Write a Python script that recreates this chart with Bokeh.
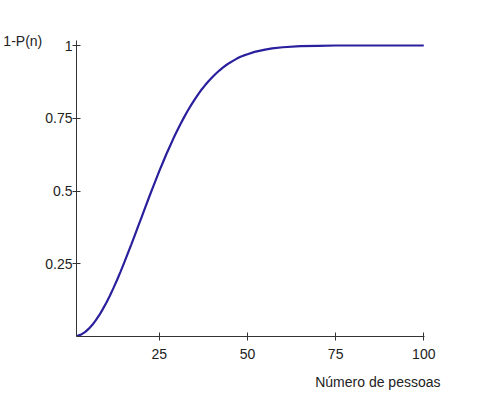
from bokeh.plotting import figure
from bokeh.models import FixedTicker, Range1d, Title
from bokeh.embed import file_html
from bokeh.resources import INLINE

# Number of people and probability of at least one shared birthday
people = [1, 2, 3, 4, 5, 6, 7, 8, 9, 10, 11, 12, 13, 14, 15, 16, 17, 18, 19, 20,
          21, 22, 23, 24, 25, 26, 27, 28, 29, 30, 31, 32, 33, 34, 35, 36, 37, 38, 39, 40,
          41, 42, 43, 44, 45, 46, 47, 48, 49, 50, 52, 55, 57, 60, 65, 70, 75, 80, 90, 100]
prob = [0.0, 0.003, 0.008, 0.016, 0.027, 0.040, 0.056, 0.074, 0.095, 0.117,
        0.141, 0.167, 0.194, 0.223, 0.253, 0.284, 0.315, 0.347, 0.379, 0.411,
        0.444, 0.476, 0.507, 0.538, 0.569, 0.598, 0.627, 0.654, 0.681, 0.706,
        0.730, 0.753, 0.775, 0.795, 0.814, 0.832, 0.849, 0.864, 0.878, 0.891,
        0.903, 0.914, 0.924, 0.933, 0.941, 0.948, 0.955, 0.961, 0.966, 0.970,
        0.978, 0.986, 0.990, 0.994, 0.998, 0.999, 1.000, 1.000, 1.000, 1.000]
x_ticks = [25, 50, 75, 100]
y_ticks = [0.25, 0.5, 0.75, 1.0]
y_tick_labels = ["0.25", "0.5", "0.75", "1"]
x_title = "Número de pessoas"
y_title = "1-P(n)"

FONT = "Liberation Sans"
TXT = "#222222"

p = figure(width=500, height=400, output_backend="svg", toolbar_location=None,
           x_range=Range1d(1.5, 100.2), y_range=Range1d(0, 1.0172),
           min_border_left=76, min_border_right=76, min_border_top=40, min_border_bottom=64)
p.outline_line_color = None
p.xgrid.visible = False
p.ygrid.visible = False
p.background_fill_color = "white"
p.border_fill_color = "white"

p.line(people, prob, line_color="#2a1f9c", line_width=2.2)

for ax in (p.xaxis[0], p.yaxis[0]):
    ax.axis_line_color = "#333333"
    ax.major_tick_line_color = "#333333"
    ax.minor_tick_line_color = None
    ax.major_label_text_font = FONT
    ax.major_label_text_font_size = "14px"
    ax.major_label_text_color = TXT
    ax.major_tick_in = 4
    ax.major_tick_out = 4

p.xaxis.ticker = FixedTicker(ticks=x_ticks)
p.xaxis.major_label_overrides = {t: str(t) for t in x_ticks}
p.xaxis.major_label_standoff = 8
p.yaxis.ticker = FixedTicker(ticks=y_ticks)
p.yaxis.major_label_overrides = {t: s for t, s in zip(y_ticks, y_tick_labels)}
p.yaxis.major_label_standoff = 0

ya = p.yaxis[0]
ya.axis_label = y_title
ya.axis_label_orientation = "horizontal"
ya.axis_label_text_font = FONT
ya.axis_label_text_font_size = "14px"
ya.axis_label_text_font_style = "normal"
ya.axis_label_text_color = TXT
ya.axis_label_standoff = 0
if "axis_label_align" in ya.properties():
    ya.axis_label_align = "end"

p.add_layout(Title(text=x_title, align="right", offset=-16, standoff=20,
                   text_font=FONT, text_font_size="14px", text_font_style="normal",
                   text_color=TXT), "below")

open("out.html", "w").write(file_html(p, INLINE))
